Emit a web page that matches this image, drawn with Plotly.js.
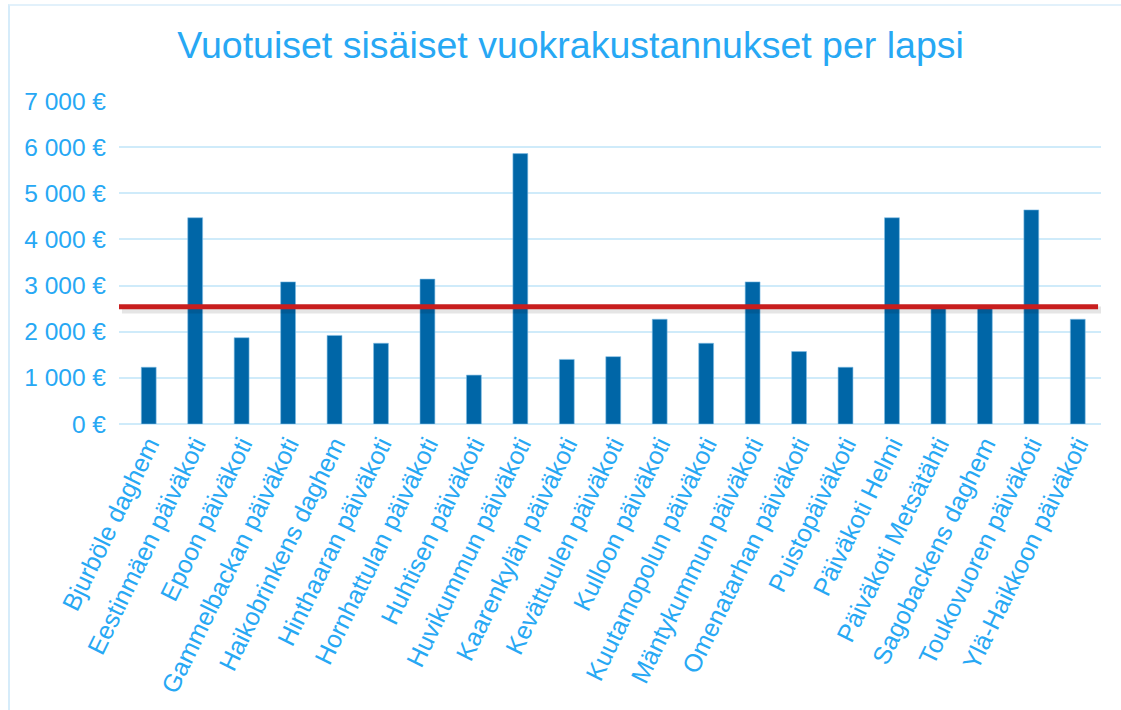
<!DOCTYPE html>
<html>
<head>
<meta charset="utf-8">
<script src="https://cdn.plot.ly/plotly-3.0.1.min.js"></script>
<style>
  html, body { margin: 0; padding: 0; background: #ffffff; overflow: hidden; }
  #chart { width: 1121px; height: 710px; position: absolute; left: 0; top: 0; }
  #frame { position: absolute; left: 8px; top: 4px; width: 1200px; height: 800px;
           border-left: 2px solid #D6ECFA; border-top: 2px solid #E2F1FB; pointer-events: none; }
</style>
</head>
<body>
<div id="chart"></div>
<div id="frame"></div>
<script>
const categories = [
  "Bjurböle daghem",
  "Eestinmäen päiväkoti",
  "Epoon päiväkoti",
  "Gammelbackan päiväkoti",
  "Haikobrinkens daghem",
  "Hinthaaran päiväkoti",
  "Hornhattulan päiväkoti",
  "Huhtisen päiväkoti",
  "Huvikummun päiväkoti",
  "Kaarenkylän päiväkoti",
  "Kevättuulen päiväkoti",
  "Kulloon päiväkoti",
  "Kuutamopolun päiväkoti",
  "Mäntykummun päiväkoti",
  "Omenatarhan päiväkoti",
  "Puistopäiväkoti",
  "Päiväkoti Helmi",
  "Päiväkoti Metsätähti",
  "Sagobackens daghem",
  "Toukovuoren päiväkoti",
  "Ylä-Haikkoon päiväkoti"
];
const costPerChild = [
  1230, 4470, 1870, 3080, 1920, 1750, 3140, 1060, 5860, 1400, 1460,
  2270, 1750, 3080, 1570, 1230, 4470, 2540, 2540, 4640, 2270
];
const averageCost = 2540;
const yTickValues = [0, 1000, 2000, 3000, 4000, 5000, 6000, 7000];
const yTickLabels = ["0 €", "1 000 €", "2 000 €", "3 000 €", "4 000 €", "5 000 €", "6 000 €", "7 000 €"];

const textBlue = "#27A8F4";
const gridBlue = "#CFEBFA";

const trace = {
  type: "bar",
  x: categories,
  y: costPerChild,
  marker: { color: "#0066A7", line: { color: "#7FBEE6", width: 0.6 } },
  hoverinfo: "skip",
  showlegend: false
};

const layout = {
  width: 1121,
  height: 710,
  paper_bgcolor: "rgba(0,0,0,0)",
  plot_bgcolor: "rgba(0,0,0,0)",
  margin: { l: 119, r: 20, t: 101, b: 286 },
  bargap: 0.68,
  font: { family: "Liberation Sans, Arial, sans-serif", color: textBlue },
  title: {
    text: "Vuotuiset sisäiset vuokrakustannukset per lapsi",
    font: { size: 37.5, color: textBlue, family: "Liberation Sans, Arial, sans-serif" },
    x: 0.509, xanchor: "center",
    y: 0.937, yanchor: "middle"
  },
  xaxis: {
    type: "category",
    range: [-0.64, 20.5],
    tickangle: -64,
    tickfont: { size: 25, color: textBlue },
    showgrid: false,
    showline: false,
    ticks: "",
    automargin: false,
    fixedrange: true
  },
  yaxis: {
    range: [0, 7000],
    tickvals: yTickValues,
    ticktext: yTickLabels,
    tickfont: { size: 24.5, color: textBlue },
    showgrid: true,
    gridcolor: gridBlue,
    gridwidth: 2,
    zeroline: true,
    zerolinecolor: gridBlue,
    zerolinewidth: 2,
    showline: false,
    ticks: "",
    ticklabelstandoff: 12,
    automargin: false,
    fixedrange: true
  },
  shapes: [
    {
      type: "line", xref: "paper", yref: "y",
      x0: 0.003, x1: 1.0, y0: averageCost - 70, y1: averageCost - 70,
      line: { color: "rgba(0,0,0,0.10)", width: 7 },
      layer: "above"
    },
    {
      type: "line", xref: "paper", yref: "y",
      x0: 0, x1: 0.997, y0: averageCost, y1: averageCost,
      line: { color: "#C81E1E", width: 5 },
      layer: "above"
    }
  ]
};

Plotly.newPlot("chart", [trace], layout, { displayModeBar: false, staticPlot: true });
</script>
</body>
</html>
